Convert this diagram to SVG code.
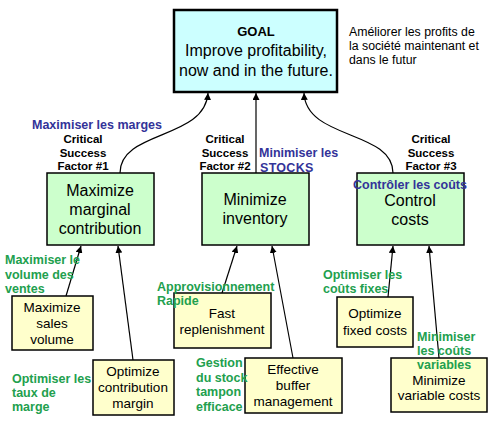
<svg xmlns="http://www.w3.org/2000/svg" width="500" height="429" viewBox="0 0 500 429">
<defs>
<marker id="ah" viewBox="0 0 10 10" refX="10" refY="5" markerWidth="7" markerHeight="7" markerUnits="userSpaceOnUse" orient="auto">
<path d="M0,0 L10,5 L0,10 z" fill="#000"/>
</marker>
<style>
.t{font-family:"Liberation Sans",Arial,sans-serif;text-anchor:middle;fill:#000}
.goal{fill:#ccffff;stroke:#000;stroke-width:2.5}
.csf{fill:#ccffcc;stroke:#000;stroke-width:1.5}
.sub{fill:#ffffcc;stroke:#000;stroke-width:1.5}
.big{font-size:16px}
.mid{font-size:13.5px}
.lbl{font-family:"Liberation Sans",Arial,sans-serif;font-size:11.5px;font-weight:bold;text-anchor:middle;fill:#000}
.blue{font-family:"Liberation Sans",Arial,sans-serif;font-size:12.5px;font-weight:bold;fill:#333399}
.green{font-family:"Liberation Sans",Arial,sans-serif;font-size:12.5px;font-weight:bold;fill:#22a04e}
.note{font-family:"Liberation Sans",Arial,sans-serif;font-size:12.3px;fill:#000}
.c{fill:none;stroke:#000;stroke-width:1.2;marker-end:url(#ah)}
</style>
</defs>
<rect width="500" height="429" fill="#fff"/>
<g id="connectors">
<path class="c" d="M120,173 C120,130 205,140 208,93"/>
<path class="c" d="M256,173 L256,93"/>
<path class="c" d="M393,173 C393,130 306,140 304,93"/>
<path class="c" d="M66,296 L81,246"/>
<path class="c" d="M133,360 L118,246"/>
<path class="c" d="M222,293 L237,246"/>
<path class="c" d="M293,358 L272,246"/>
<path class="c" d="M388,297 L393,246"/>
<path class="c" d="M439,358 L429,246"/>
</g>
<g id="goal">
<rect class="goal" x="174" y="10" width="163" height="82"/>
<text class="t" x="256" y="36" font-size="13" font-weight="bold">GOAL</text>
<text class="t big" x="256" y="56">Improve profitability,</text>
<text class="t big" x="256" y="76">now and in the future.</text>
</g>
<g id="goal-note">
<text class="note" x="349" y="36">Améliorer les profits de</text>
<text class="note" x="349" y="50">la société maintenant et</text>
<text class="note" x="349" y="64">dans le futur</text>
</g>
<g id="csf1">
<text class="lbl" x="83" y="143">Critical</text>
<text class="lbl" x="83" y="157">Success</text>
<text class="lbl" x="83" y="170">Factor #1</text>
<rect class="csf" x="47" y="173" width="107" height="72"/>
<text class="t big" x="100" y="196">Maximize</text>
<text class="t big" x="100" y="215">marginal</text>
<text class="t big" x="100" y="234">contribution</text>
<text class="blue" x="32" y="129">Maximiser les marges</text>
</g>
<g id="csf2">
<text class="lbl" x="225" y="143">Critical</text>
<text class="lbl" x="225" y="157">Success</text>
<text class="lbl" x="225" y="170">Factor #2</text>
<rect class="csf" x="202" y="173" width="107" height="72"/>
<text class="t big" x="255" y="205">Minimize</text>
<text class="t big" x="255" y="224">inventory</text>
<text class="blue" x="259" y="157">Minimiser les</text>
<text class="blue" x="260" y="172" letter-spacing="0.3">STOCKS</text>
</g>
<g id="csf3">
<text class="lbl" x="431" y="143">Critical</text>
<text class="lbl" x="431" y="157">Success</text>
<text class="lbl" x="431" y="170">Factor #3</text>
<rect class="csf" x="357" y="173" width="107" height="72"/>
<text class="t big" x="410" y="206">Control</text>
<text class="t big" x="410" y="225">costs</text>
<text class="blue" x="353" y="189">Contrôler les coûts</text>
</g>
<g id="sales-volume">
<rect class="sub" x="12" y="296" width="81" height="54"/>
<text class="t mid" x="52" y="312">Maximize</text>
<text class="t mid" x="52" y="328">sales</text>
<text class="t mid" x="52" y="344">volume</text>
<text class="green" x="5" y="264">Maximiser le</text>
<text class="green" x="5" y="279">volume des</text>
<text class="green" x="5" y="293">ventes</text>
</g>
<g id="contribution-margin">
<rect class="sub" x="93" y="360" width="81" height="55"/>
<text class="t mid" x="133" y="376">Optimize</text>
<text class="t mid" x="133" y="392">contribution</text>
<text class="t mid" x="133" y="408">margin</text>
<text class="green" x="12" y="383">Optimiser les</text>
<text class="green" x="12" y="397">taux de</text>
<text class="green" x="12" y="411">marge</text>
</g>
<g id="fast-replenishment">
<rect class="sub" x="174" y="293" width="97" height="55"/>
<text class="t mid" x="222" y="318">Fast</text>
<text class="t mid" x="222" y="334">replenishment</text>
<text class="green" x="157" y="291">Approvisionnement</text>
<text class="green" x="157" y="305">Rapide</text>
</g>
<g id="buffer-management">
<rect class="sub" x="245" y="358" width="97" height="55"/>
<text class="t mid" x="293" y="374">Effective</text>
<text class="t mid" x="293" y="390">buffer</text>
<text class="t mid" x="293" y="406">management</text>
<text class="green" x="196" y="367">Gestion</text>
<text class="green" x="196" y="382">du stock</text>
<text class="green" x="196" y="396">tampon</text>
<text class="green" x="196" y="411">efficace</text>
</g>
<g id="fixed-costs">
<rect class="sub" x="337" y="297" width="76" height="50"/>
<text class="t mid" x="375" y="318">Optimize</text>
<text class="t mid" x="375" y="335">fixed costs</text>
<text class="green" x="323" y="279">Optimiser les</text>
<text class="green" x="323" y="293">coûts fixes</text>
</g>
<g id="variable-costs">
<rect class="sub" x="391" y="358" width="96" height="54"/>
<text class="t mid" x="439" y="385">Minimize</text>
<text class="t mid" x="439" y="400">variable costs</text>
<text class="green" x="417" y="341">Minimiser</text>
<text class="green" x="417" y="355">les coûts</text>
<text class="green" x="417" y="369">variables</text>
</g>
</svg>
